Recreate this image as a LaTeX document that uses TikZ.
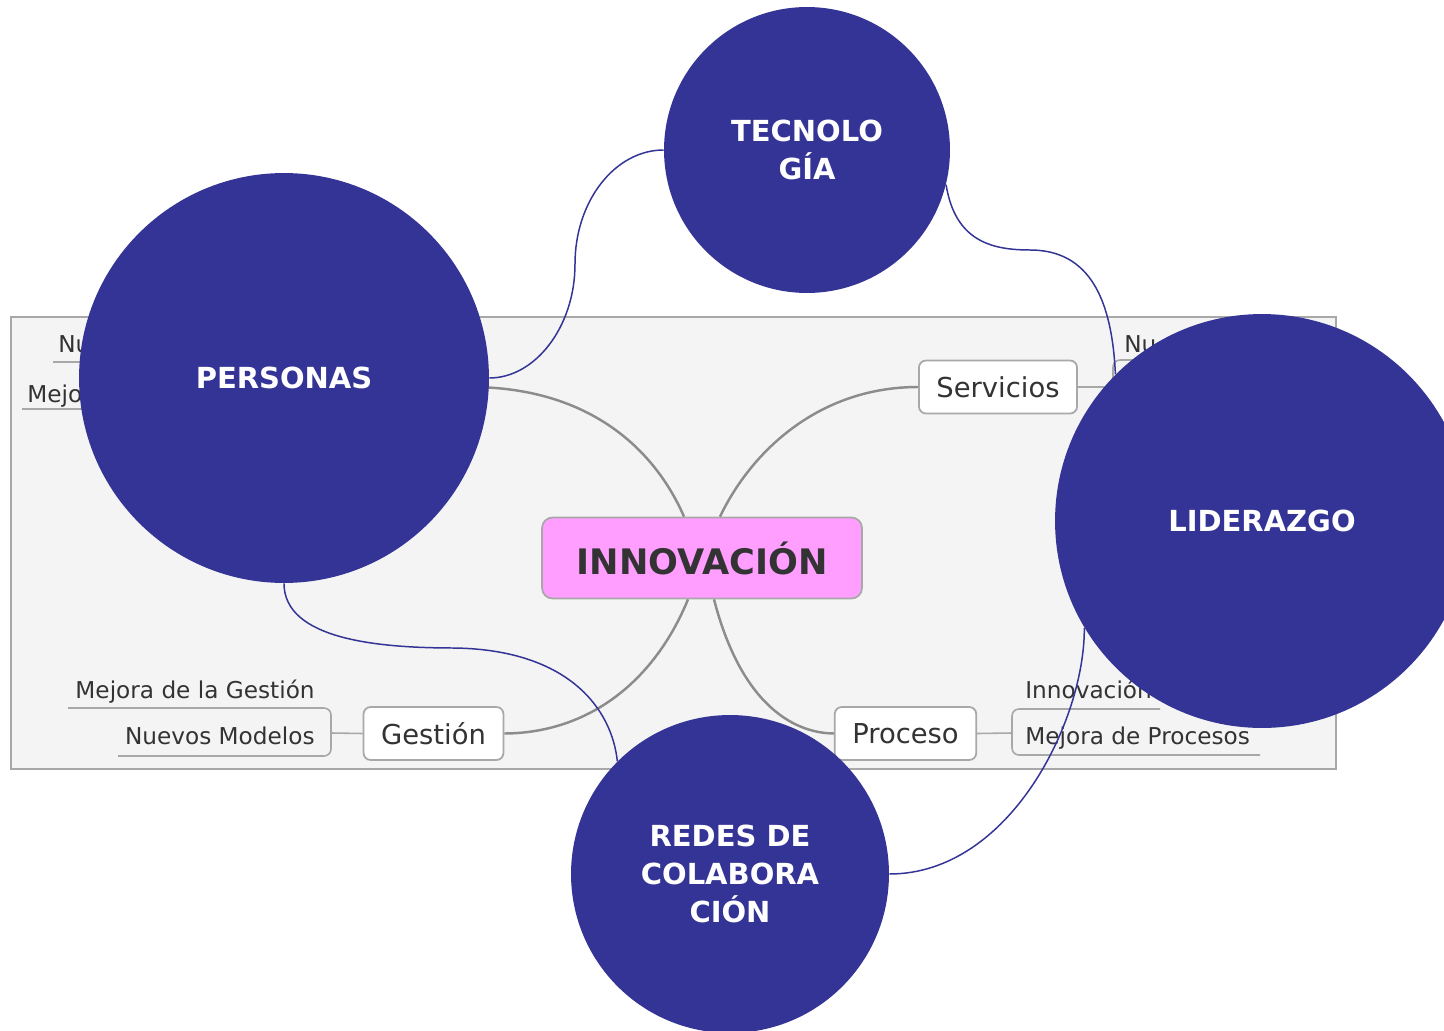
\documentclass[tikz,border=0pt]{standalone}
\usepackage{fontspec}
\setmainfont{DejaVu Sans}
\usetikzlibrary{positioning,calc}

\definecolor{circblue}{HTML}{343496}
\definecolor{branchgray}{HTML}{8C8C8C}
\definecolor{panelgray}{HTML}{F4F4F4}
\definecolor{boxgray}{HTML}{A8A8A8}
\definecolor{topicpink}{HTML}{FF9EFF}
\definecolor{textgray}{HTML}{333333}

\tikzset{
  bigcircle/.style={circle, fill=circblue, text=white, inner sep=0pt, align=center,
    font=\fontsize{16.5}{21.5}\selectfont\bfseries},
  centre/.style={draw=boxgray, line width=1pt, fill=topicpink, rounded corners=6pt,
    minimum width=6.4cm, minimum height=1.62cm, text=textgray,
    font=\fontsize{20}{24}\selectfont\bfseries},
  topic/.style={draw=boxgray, line width=1pt, fill=white, rounded corners=4pt,
    minimum height=1.06cm, inner xsep=0.35cm, text=textgray,
    font=\fontsize{15.6}{18}\selectfont},
  subtopic/.style={text=textgray, inner sep=0pt, font=\fontsize{13.2}{16}\selectfont},
  branch/.style={draw=branchgray, line width=1.4pt},
  subline/.style={draw=boxgray, line width=0.9pt, rounded corners=4pt},
  link/.style={draw=circblue, line width=0.85pt},
}

\begin{document}
\begin{tikzpicture}[x=0.02cm, y=-0.02cm]

\useasboundingbox (0,0) rectangle (1444,1031);
\clip (0,0) rectangle (1444,1031);

% mind map panel
\draw[fill=panelgray, draw=boxgray, line width=1pt] (11,317) rectangle (1336,769);

\node[centre] (innov) at (702,558) {INNOVACIÓN};
\node[topic] (serv) at (998,387) {Servicios};
\node[topic] (gest) at (433.5,733.5) {Gestión};
\node[topic] (proc) at (905.5,733.5) {Proceso};
\coordinate (hid) at (470,387); % topic under PERSONAS

\draw[branch] ($(innov.north)+(-18,0)$) .. controls (655,450) and (590,387) .. (hid);
\draw[branch] ($(innov.north)+(18,0)$) .. controls (752,450) and (820,387) .. (serv.west);
\draw[branch] ($(innov.south)+(-14,0)$) .. controls (655,680) and (590,733) .. (gest.east);
\draw[branch] ($(innov.south)+(12,0)$) .. controls (740,700) and (790,733) .. (proc.west);

% sub topics
\coordinate (gbr) at (331,733);
\coordinate (pbr) at (1012,733);
\coordinate (sbr) at (1113,387);
\draw[subline] (gest.west) -- (gbr);
\draw[subline] (proc.east) -- (pbr);
\draw[subline] (serv.east) -- (sbr);
\draw[subline] (68,708) -- (331,708) -- (331,756) -- (118,756);
\draw[subline] (1160,709) -- (1012,709) -- (1012,755) -- (1260,755);
\draw[subline] (1200,360) -- (1113,360) -- (1113,430);
\draw[subline] (53,362) -- (150,362) -- (150,409) -- (22,409);

\node[subtopic, anchor=base east] (mgest) at (315,698) {Mejora de la Gestión};
\node[subtopic, anchor=base east] (nmod) at (315,744) {Nuevos Modelos};
\node[subtopic, anchor=base west] (innp) at (1025,698) {Innovación};
\node[subtopic, anchor=base west] (mproc) at (1025,744) {Mejora de Procesos};
\node[subtopic, anchor=base west] (nul) at (58,352) {Nu};
\node[subtopic, anchor=base west] (mejl) at (27,402) {Mejo};
\node[subtopic, anchor=base west] (nur) at (1124,352) {Nu};

% circles
\node[bigcircle, minimum size=8.2cm] (pers) at (284,378) {PERSONAS};
\node[bigcircle, minimum size=5.72cm] (tec) at (807,150) {TECNOLO\\GÍA};
\node[bigcircle, minimum size=8.28cm] (lid) at (1262,521) {LIDERAZGO};
\node[bigcircle, minimum size=6.36cm] (redes) at (730,874) {REDES DE\\COLABORA\\CIÓN};

% links
\draw[link] (pers.east) .. controls (535,378) and (575,327) .. (575,264)
  .. controls (575,201) and (615,150) .. (tec.west);
\draw[link] (tec.-14) .. controls (955,240) and (990,250) .. (1030,250)
  .. controls (1090,250) and (1112,300) .. (lid.135);
\draw[link] (lid.211) .. controls (1085,720) and (1010,874) .. (redes.east);
\draw[link] (pers.south) .. controls (284,640) and (380,648) .. (455,648)
  .. controls (570,650) and (612,710) .. (redes.135);

\end{tikzpicture}
\end{document}
